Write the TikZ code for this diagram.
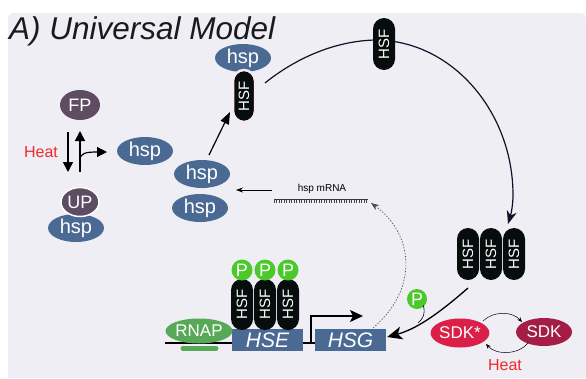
\documentclass[tikz,border=0pt]{standalone}
\usepackage{fontspec}
\setmainfont{Liberation Sans}
\usetikzlibrary{shapes.geometric,arrows.meta,calc}
\definecolor{bgc}{HTML}{EFEEF5}
\definecolor{hspc}{HTML}{4A6993}
\definecolor{fpc}{HTML}{5E4C63}
\definecolor{hsfc}{HTML}{070C0C}
\definecolor{pgreen}{HTML}{4BC92A}
\definecolor{rnapc}{HTML}{57A857}
\definecolor{sdkstar}{HTML}{DA1F48}
\definecolor{sdkc}{HTML}{A31D47}
\definecolor{heatc}{HTML}{F22A2A}
\definecolor{arcc}{HTML}{10102A}
\definecolor{titlec}{HTML}{1A1A1A}
\definecolor{pillrim}{HTML}{F5EAF1}
\begin{document}
\begin{tikzpicture}[x=1pt,y=-1pt,
  hspnode/.style={ellipse, fill=hspc, text=white, minimum width=56pt, minimum height=28pt, inner sep=0pt, font=\fontsize{20}{20}\selectfont},
  protnode/.style={ellipse, fill=fpc, text=white, minimum width=40pt, minimum height=30pt, inner sep=0pt, font=\fontsize{18}{18}\selectfont},
  pill/.style={rectangle, rotate=90, fill=hsfc, text=white, minimum width=52pt, minimum height=22pt, rounded corners=11pt, inner sep=0pt, font=\fontsize{15}{15}\selectfont},
  pnode/.style={circle, fill=pgreen, text=white, minimum size=21pt, inner sep=0pt, font=\fontsize{18}{18}\selectfont},
  genebox/.style={rectangle, fill=hspc, text=white, minimum width=71pt, minimum height=22pt, inner sep=0pt, font=\fontsize{21}{21}\selectfont\itshape},
  sdknode/.style={ellipse, text=white, minimum width=56pt, minimum height=29pt, inner sep=0pt, font=\fontsize{17}{17}\selectfont},
  heatlabel/.style={text=heatc, font=\fontsize{16}{16}\selectfont, inner sep=0pt},
  bigtip/.style={-{Triangle[length=10pt,width=10pt]}, line width=1.5pt},
  thin arrow/.style={-{Stealth[length=5pt,width=4pt]}, line width=0.5pt}
]
\useasboundingbox (0,0) rectangle (586,378);
% background
\fill[bgc] [rounded corners=5pt] (8,378) -- (8,13) -- (586,13) [sharp corners] -- (586,378) -- cycle;

% title
\node[anchor=base west, inner sep=0pt, text=titlec, font=\fontsize{31.5}{31.5}\selectfont\itshape] (title) at (9,39) {A) Universal Model};

% ---------- left: FP / UP ----------
\node[protnode] (fp) at (80,105) {FP};
\node[hspnode] (hspup) at (76,228) {hsp};
\node[protnode, draw=white, line width=1.5pt, minimum width=38pt, minimum height=29pt] (up) at (80,202) {UP};
\node[heatlabel] (heat1) at (41,152) {Heat};
\node[hspnode] (hspfree) at (145,151) {hsp};
\coordinate (dnS) at (68,132);
\coordinate (dnE) at (68,172);
\coordinate (upS) at (80,172);
\coordinate (upE) at (80,131);
\coordinate (brS) at (80,160);
\coordinate (brE) at (107,152);
\draw[bigtip] (dnS) -- (dnE);
\draw[bigtip] (upS) -- (upE);
\draw[bigtip, line width=1.2pt] (brS) .. controls (80,153) and (86,152) .. (brE);

% ---------- hsp pair and arrow to HSF ----------
\node[hspnode] (hspa) at (202,174) {hsp};
\node[hspnode] (hspb) at (200,208) {hsp};
\node[hspnode] (hsptop) at (243,58) {hsp};
\node[pill, draw=pillrim, line width=2.5pt] (hsfa) at (244,96) {HSF};
\coordinate (aS) at (209,155);
\coordinate (aE) at (230,112);
\draw[-{Triangle[length=12pt,width=9pt]}, line width=1.2pt] (aS) -- (aE);

% ---------- big arc ----------
\coordinate (arcS) at (265,83);
\coordinate (arcR) at (513,195);
\coordinate (arcE) at (508,224);
\draw[arcc, line width=1.2pt, -{Stealth[length=13pt,width=10pt,inset=4pt]}]
  (arcS) .. controls (296,58) and (335,41) .. (375,40)
  .. controls (452,40) and (513,112) .. (arcR)
  .. controls (513,205) and (511,214) .. (arcE);
\node[pill] (hsftop) at (384,44) {HSF};

% ---------- HSF trimer (right) ----------
\node[pill] (t1) at (468,254) {HSF};
\node[pill] (t2) at (491,254) {HSF};
\node[pill] (t3) at (514,254) {HSF};

% ---------- gene ----------
\coordinate (dnaL) at (165,343);
\node[genebox] (hse) at (267.5,340) {HSE};
\node[genebox] (hsg) at (350.5,340) {HSG};
\draw[line width=2.5pt] (dnaL) -- (hsg.west |- dnaL);
\node[genebox] at (hse) {HSE};
\node[genebox] at (hsg) {HSG};
\coordinate (prom) at (311,343);
\coordinate (promE) at (363,316);
\draw[line width=1.2pt, -{Stealth[length=13pt,width=12pt,inset=3pt]}] (prom) |- (promE);

% RNAP
\draw[rnapc, line width=5pt, line cap=round] (183,348.5) -- (216,348.5);
\node[ellipse, fill=rnapc, text=white, minimum width=47pt, minimum height=25pt, inner sep=0pt, font=\fontsize{17}{17}\selectfont] (rnap) at (199,331) {RNAP};

% trimer on HSE
\node[pill, minimum width=51pt] (b1) at (242,304.5) {HSF};
\node[pill, minimum width=51pt] (b2) at (265,304.5) {HSF};
\node[pill, minimum width=51pt] (b3) at (288,304.5) {HSF};
\node[pnode] (p1) at (242,270) {P};
\node[pnode] (p2) at (265,270) {P};
\node[pnode] (p3) at (288,270) {P};

% ---------- trimer to HSG ----------
\coordinate (trS) at (468,288);
\coordinate (tailJ) at (418,323);
\draw[line width=1.3pt, -{Stealth[length=15pt,width=13pt,inset=4pt]}]
  (trS) .. controls (445,308) and (420,328) .. ($(hsg.east)+(1,-3)$);
\node[pnode, minimum size=20pt] (pfree) at (417,299) {P};
\draw[line width=0.6pt] ($(pfree.south east)+(-1,-1)$) .. controls (426,314) and (422,320) .. (tailJ);

% ---------- mRNA ----------
\node[inner sep=0pt, font=\fontsize{10}{10}\selectfont] (mrna) at (322,189) {hsp mRNA};
\coordinate (combL) at (274,199);
\coordinate (combR) at (368,199);
\draw[line width=0.5pt, black!80] (combL) -- (combR);
\foreach \i in {0,...,37} { \draw[line width=0.35pt, black!75] ($(combL)+(2.5*\i,0)$) -- ++(0,3.5); }
\coordinate (mS) at (272,190);
\coordinate (mE) at (236,190);
\draw[-{Stealth[length=7pt,width=5pt]}, line width=0.6pt] (mS) -- (mE);
\coordinate (dotS) at (373,328);
\coordinate (dotE) at (371,203);
\draw[black!70, line width=0.6pt, dash pattern=on 1.5pt off 1.5pt, -{Stealth[length=8pt,width=6pt]}]
  (dotS) .. controls (418,290) and (415,235) .. (dotE);

% ---------- SDK ----------
\node[sdknode, fill=sdkstar] (sdks) at (460,333) {SDK*};
\node[sdknode, fill=sdkc, minimum height=28pt] (sdk) at (544,332) {SDK};
\draw[thin arrow] (483,321) .. controls (493,311) and (512,311) .. (522,322);
\draw[thin arrow] (528,343) .. controls (520,354) and (497,356) .. (486,344);
\node[heatlabel] (heat2) at (505,365) {Heat};
\end{tikzpicture}
\end{document}
